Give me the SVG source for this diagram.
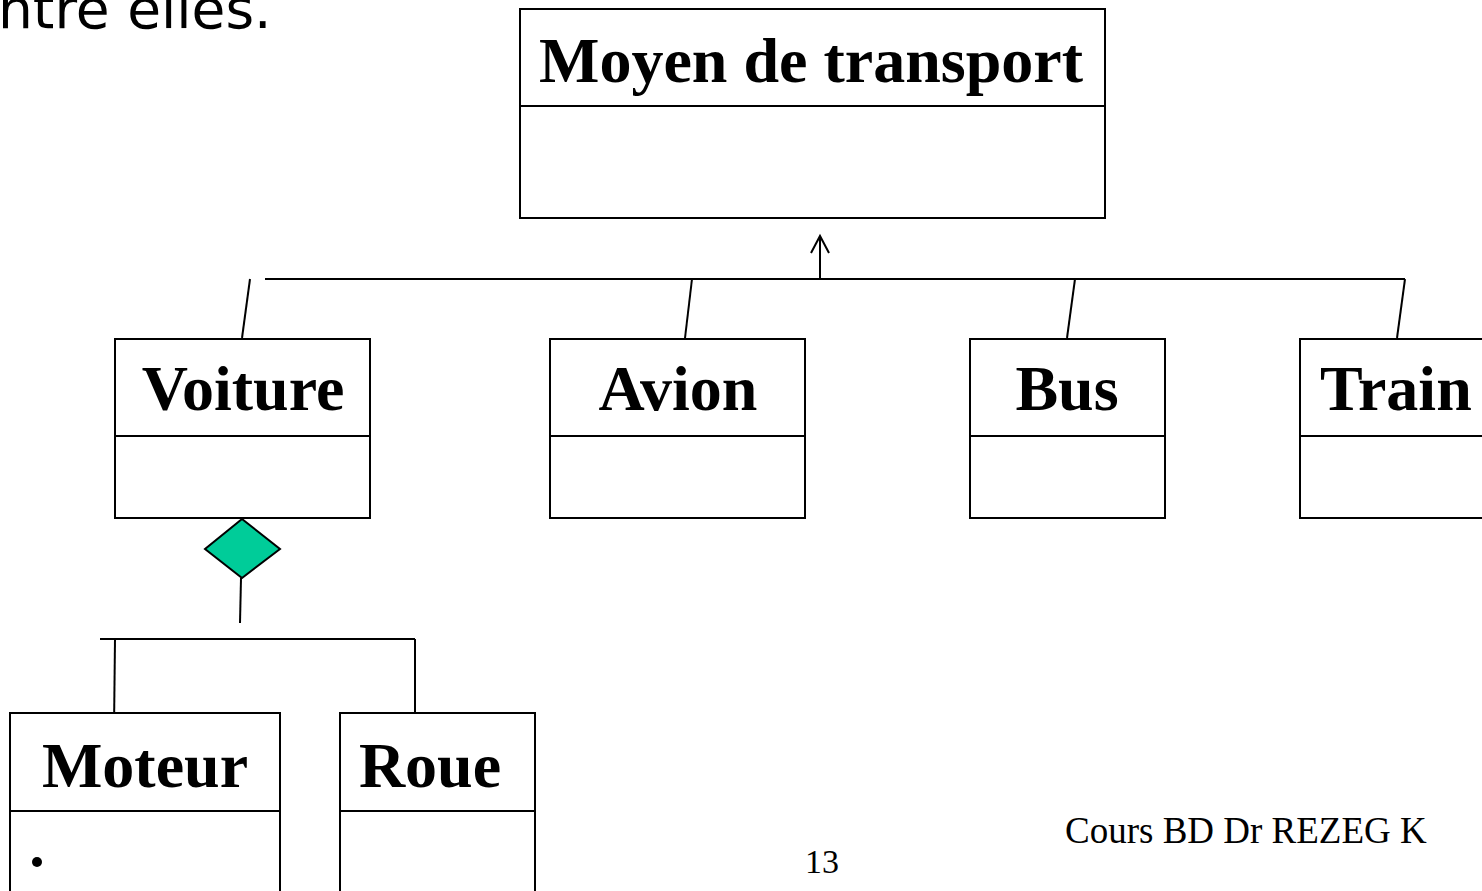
<svg xmlns="http://www.w3.org/2000/svg" width="1482" height="891" viewBox="0 0 1482 891">
  <defs>
    <style>
      .box { fill: #ffffff; stroke: #000000; stroke-width: 2; }
      .div { stroke: #000000; stroke-width: 2; }
      .ln { stroke: #000000; stroke-width: 2; fill: none; }
      .cls { font-family: "Liberation Serif", "Times New Roman", serif; font-weight: bold; font-size: 64px; fill: #000000; text-anchor: middle; }
      .foot { font-family: "Liberation Serif", "Times New Roman", serif; font-size: 37px; fill: #000000; }
      .head { font-family: "DejaVu Sans", Verdana, sans-serif; font-size: 55px; fill: #000000; }
    </style>
  </defs>
  <rect x="0" y="0" width="1482" height="891" fill="#ffffff"/>

  <!-- slide text fragment -->
  <text class="head" x="-2" y="28">ntre elles.</text>

  <!-- connectors -->
  <g id="connectors">
    <!-- generalisation tree -->
    <line class="ln" x1="820" y1="278" x2="820" y2="237"/>
    <polyline class="ln" points="811,253 820,236 829,253"/>
    <line class="ln" x1="265" y1="279" x2="1405" y2="279"/>
    <line class="ln" x1="250" y1="279" x2="242" y2="338"/>
    <line class="ln" x1="692" y1="279" x2="685" y2="338"/>
    <line class="ln" x1="1075" y1="279" x2="1067" y2="338"/>
    <line class="ln" x1="1405" y1="279" x2="1397" y2="338"/>
    <!-- composition -->
    <line class="ln" x1="241" y1="578" x2="240" y2="623"/>
    <line class="ln" x1="100" y1="639" x2="415" y2="639"/>
    <line class="ln" x1="115" y1="639" x2="114" y2="728"/>
    <line class="ln" x1="415" y1="639" x2="415" y2="713"/>
  </g>

  <g id="moyen-de-transport">
    <rect class="box" x="520" y="9" width="585" height="209"/>
    <line class="div" x1="520" y1="106" x2="1105" y2="106"/>
    <text class="cls" x="811" y="82">Moyen de transport</text>
  </g>

  <g id="voiture">
    <rect class="box" x="115" y="339" width="255" height="179"/>
    <line class="div" x1="115" y1="436" x2="370" y2="436"/>
    <text class="cls" x="243" y="410">Voiture</text>
  </g>

  <g id="avion">
    <rect class="box" x="550" y="339" width="255" height="179"/>
    <line class="div" x1="550" y1="436" x2="805" y2="436"/>
    <text class="cls" x="678" y="410">Avion</text>
  </g>

  <g id="bus">
    <rect class="box" x="970" y="339" width="195" height="179"/>
    <line class="div" x1="970" y1="436" x2="1165" y2="436"/>
    <text class="cls" x="1067" y="410">Bus</text>
  </g>

  <g id="train">
    <rect class="box" x="1300" y="339" width="200" height="179"/>
    <line class="div" x1="1300" y1="436" x2="1500" y2="436"/>
    <text class="cls" x="1320" y="410" style="text-anchor:start">Train</text>
  </g>

  <g id="composition-diamond">
    <polygon points="242,519 280,549 242,578 205,549" fill="#00cc99" stroke="#000000" stroke-width="2"/>
  </g>

  <g id="moteur">
    <rect class="box" x="10" y="713" width="270" height="200"/>
    <line class="div" x1="10" y1="811" x2="280" y2="811"/>
    <text class="cls" x="145" y="787">Moteur</text>
    <circle cx="37" cy="862" r="5" fill="#000000"/>
  </g>

  <g id="roue">
    <rect class="box" x="340" y="713" width="195" height="200"/>
    <line class="div" x1="340" y1="811" x2="535" y2="811"/>
    <text class="cls" x="430" y="787">Roue</text>
  </g>

  <!-- footer -->
  <text class="foot" x="822" y="873" text-anchor="middle" style="font-size:34px">13</text>
  <text class="foot" x="1065" y="843">Cours BD Dr REZEG K</text>
</svg>
